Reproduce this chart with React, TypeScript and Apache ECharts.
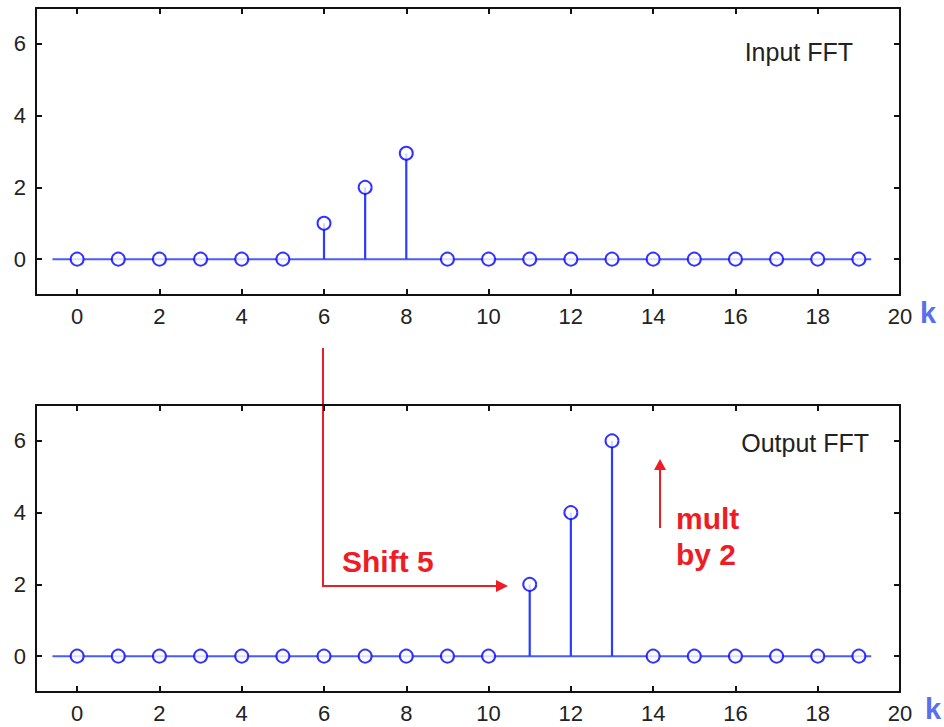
import React, { useEffect, useRef } from "react";
import * as echarts from "echarts";

const K: number[] = Array.from({ length: 20 }, (_, i) => i);
const INPUT_FFT: number[] = [0, 0, 0, 0, 0, 0, 1, 2, 2.95, 0, 0, 0, 0, 0, 0, 0, 0, 0, 0, 0];
const OUTPUT_FFT: number[] = [0, 0, 0, 0, 0, 0, 0, 0, 0, 0, 0, 2, 4, 6, 0, 0, 0, 0, 0, 0];
const X_TICKS: number[] = [0, 2, 4, 6, 8, 10, 12, 14, 16, 18, 20];
const Y_TICKS: number[] = [0, 2, 4, 6];
const BASELINE_RANGE: number[] = [-0.6, 19.3];
const PANEL_TITLES: string[] = ["Input FFT", "Output FFT"];

const FONT = "'Liberation Sans', Arial, sans-serif";
const STEM = "#2b3cff";
const MARK = "#0000ff";
const BASE = "#4a5cff";
const RED = "#ee1c24";
const TXT = "#222222";

export default function App() {
  const ref = useRef<HTMLDivElement>(null);
  useEffect(() => {
    if (!ref.current) return;
    const chart = echarts.init(ref.current, null, { renderer: "svg" });
    const panels = [INPUT_FFT, OUTPUT_FFT];
    const grids = [
      { left: 36, width: 864, top: 8, height: 287 },
      { left: 36, width: 864, top: 405, height: 287 },
    ];
    const xAxes: any[] = [];
    const yAxes: any[] = [];
    const series: any[] = [];
    grids.forEach((g, gi) => {
      const tick = { show: true, inside: true, length: 6, lineStyle: { color: "#111", width: 2 }, customValues: X_TICKS };
      xAxes.push({
        type: "value", gridIndex: gi, min: -1, max: 20, position: "bottom",
        axisLine: { show: true, onZero: false, lineStyle: { color: "#111", width: 2 } },
        axisTick: tick,
        axisLabel: { show: true, customValues: X_TICKS, margin: 10, color: TXT, fontSize: 22, fontFamily: FONT },
        splitLine: { show: false },
      });
      xAxes.push({
        type: "value", gridIndex: gi, min: -1, max: 20, position: "top",
        axisLine: { show: true, onZero: false, lineStyle: { color: "#111", width: 2 } },
        axisTick: tick,
        axisLabel: { show: false },
        splitLine: { show: false },
      });
      const ytick = { show: true, inside: true, length: 6, lineStyle: { color: "#111", width: 2 }, customValues: Y_TICKS };
      yAxes.push({
        type: "value", gridIndex: gi, min: -1, max: 7, position: "left",
        axisLine: { show: true, onZero: false, lineStyle: { color: "#111", width: 2 } },
        axisTick: ytick,
        axisLabel: { show: true, customValues: Y_TICKS, margin: 10, color: TXT, fontSize: 22, fontFamily: FONT },
        splitLine: { show: false },
      });
      yAxes.push({
        type: "value", gridIndex: gi, min: -1, max: 7, position: "right",
        axisLine: { show: true, onZero: false, lineStyle: { color: "#111", width: 2 } },
        axisTick: ytick,
        axisLabel: { show: false },
        splitLine: { show: false },
      });
      const xi = gi * 2;
      const yi = gi * 2;
      const vals = panels[gi];
      series.push({
        type: "line", xAxisIndex: xi, yAxisIndex: yi, showSymbol: false, silent: true,
        data: BASELINE_RANGE.map((x) => [x, 0]),
        lineStyle: { color: BASE, width: 2 }, z: 2,
      });
      series.push({
        type: "custom", xAxisIndex: xi, yAxisIndex: yi, silent: true,
        data: K.map((k, i) => [k, vals[i]]),
        renderItem: (params: any, api: any) => {
          const x = api.value(0);
          const v = api.value(1);
          const p0 = api.coord([x, 0]);
          const p1 = api.coord([x, v]);
          return {
            type: "line",
            shape: { x1: p0[0], y1: p0[1], x2: p1[0], y2: p1[1] },
            style: { stroke: STEM, lineWidth: 2.2 },
          };
        },
        z: 3,
      });
      series.push({
        type: "scatter", xAxisIndex: xi, yAxisIndex: yi, silent: true,
        data: K.map((k, i) => [k, vals[i]]),
        symbol: "circle", symbolSize: 13,
        itemStyle: { color: "#ffffff", borderColor: MARK, borderWidth: 2 },
        z: 4,
      });
    });

    const graphic: any[] = [
      { type: "text", x: 853, y: 52, style: { text: PANEL_TITLES[0], align: "right", verticalAlign: "middle", fontSize: 25, fontFamily: FONT, fill: TXT } },
      { type: "text", x: 869, y: 443, style: { text: PANEL_TITLES[1], align: "right", verticalAlign: "middle", fontSize: 25, fontFamily: FONT, fill: TXT } },
      { type: "text", x: 920, y: 313, style: { text: "k", align: "left", verticalAlign: "middle", fontSize: 29, fontWeight: "bold", fontFamily: FONT, fill: "#5a6ff0" } },
      { type: "text", x: 925, y: 709, style: { text: "k", align: "left", verticalAlign: "middle", fontSize: 29, fontWeight: "bold", fontFamily: FONT, fill: "#5a6ff0" } },
      // Shift arrow
      { type: "polyline", shape: { points: [[323, 348], [323, 586], [499, 586]] }, style: { stroke: RED, lineWidth: 2, fill: null } },
      { type: "polygon", shape: { points: [[496, 580], [508, 586], [496, 592]] }, style: { fill: RED } },
      { type: "text", x: 342, y: 561, style: { text: "Shift 5", align: "left", verticalAlign: "middle", fontSize: 30, fontWeight: "bold", fontFamily: FONT, fill: RED } },
      // mult arrow
      { type: "line", shape: { x1: 660, y1: 528, x2: 660, y2: 468 }, style: { stroke: RED, lineWidth: 2 } },
      { type: "polygon", shape: { points: [[654, 470], [660, 459], [666, 470]] }, style: { fill: RED } },
      { type: "text", x: 676, y: 518, style: { text: "mult", align: "left", verticalAlign: "middle", fontSize: 30, fontWeight: "bold", fontFamily: FONT, fill: RED } },
      { type: "text", x: 676, y: 554, style: { text: "by 2", align: "left", verticalAlign: "middle", fontSize: 30, fontWeight: "bold", fontFamily: FONT, fill: RED } },
    ];

    chart.setOption({
      animation: false,
      backgroundColor: "#ffffff",
      grid: grids,
      xAxis: xAxes,
      yAxis: yAxes,
      series,
      graphic,
    });
    return () => chart.dispose();
  }, []);
  return <div ref={ref} style={{ position: "fixed", left: 0, top: 0, width: 944, height: 727 }} />;
}
